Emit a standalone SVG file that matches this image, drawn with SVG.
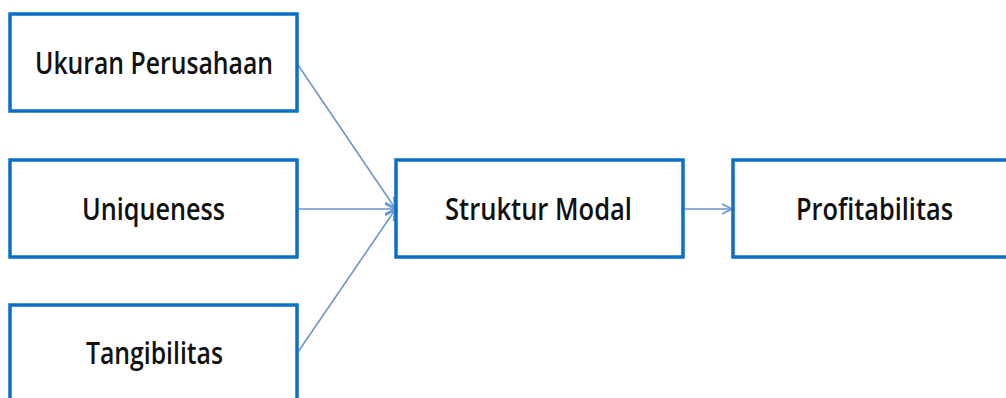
<svg xmlns="http://www.w3.org/2000/svg" width="1006" height="398" viewBox="0 0 1006 398">
  <style>
    .box { fill: #ffffff; stroke: #0a6fc8; stroke-width: 3.5; }
    .lbl { font-family: "Open Sans", "Liberation Sans", sans-serif; font-weight: 600; font-size: 31px; fill: #111111; }
    .conn { stroke: #6a96d0; stroke-width: 1.6; fill: none; }
  </style>
  <defs>
    <marker id="arrow" viewBox="0 0 12 12" refX="11" refY="6" markerWidth="12" markerHeight="12" markerUnits="userSpaceOnUse" orient="auto">
      <path d="M1,1 L11,6 L1,11" fill="none" stroke="#6a96d0" stroke-width="1.6"/>
    </marker>
  </defs>

  <g id="connectors">
    <line class="conn" x1="298" y1="65" x2="395" y2="208" marker-end="url(#arrow)"/>
    <line class="conn" x1="298" y1="209" x2="395" y2="209" marker-end="url(#arrow)"/>
    <line class="conn" x1="298" y1="352" x2="395" y2="210" marker-end="url(#arrow)"/>
    <line class="conn" x1="684" y1="209" x2="732" y2="209" marker-end="url(#arrow)"/>
  </g>

  <g id="ukuran-perusahaan">
    <rect class="box" x="10" y="14" width="287" height="97"/>
    <text class="lbl" x="35" y="74" textLength="238" lengthAdjust="spacingAndGlyphs">Ukuran Perusahaan</text>
  </g>

  <g id="uniqueness">
    <rect class="box" x="10" y="160" width="287" height="97"/>
    <text class="lbl" x="82" y="220" textLength="143" lengthAdjust="spacingAndGlyphs">Uniqueness</text>
  </g>

  <g id="tangibilitas">
    <rect class="box" x="10" y="305" width="287" height="110"/>
    <text class="lbl" x="86" y="364" textLength="137" lengthAdjust="spacingAndGlyphs">Tangibilitas</text>
  </g>

  <g id="struktur-modal">
    <rect class="box" x="396" y="160" width="287" height="97"/>
    <text class="lbl" x="445" y="220" textLength="187" lengthAdjust="spacingAndGlyphs">Struktur Modal</text>
  </g>

  <g id="profitabilitas">
    <rect class="box" x="733" y="160" width="287" height="97"/>
    <text class="lbl" x="796" y="220" textLength="157" lengthAdjust="spacingAndGlyphs">Profitabilitas</text>
  </g>
</svg>
